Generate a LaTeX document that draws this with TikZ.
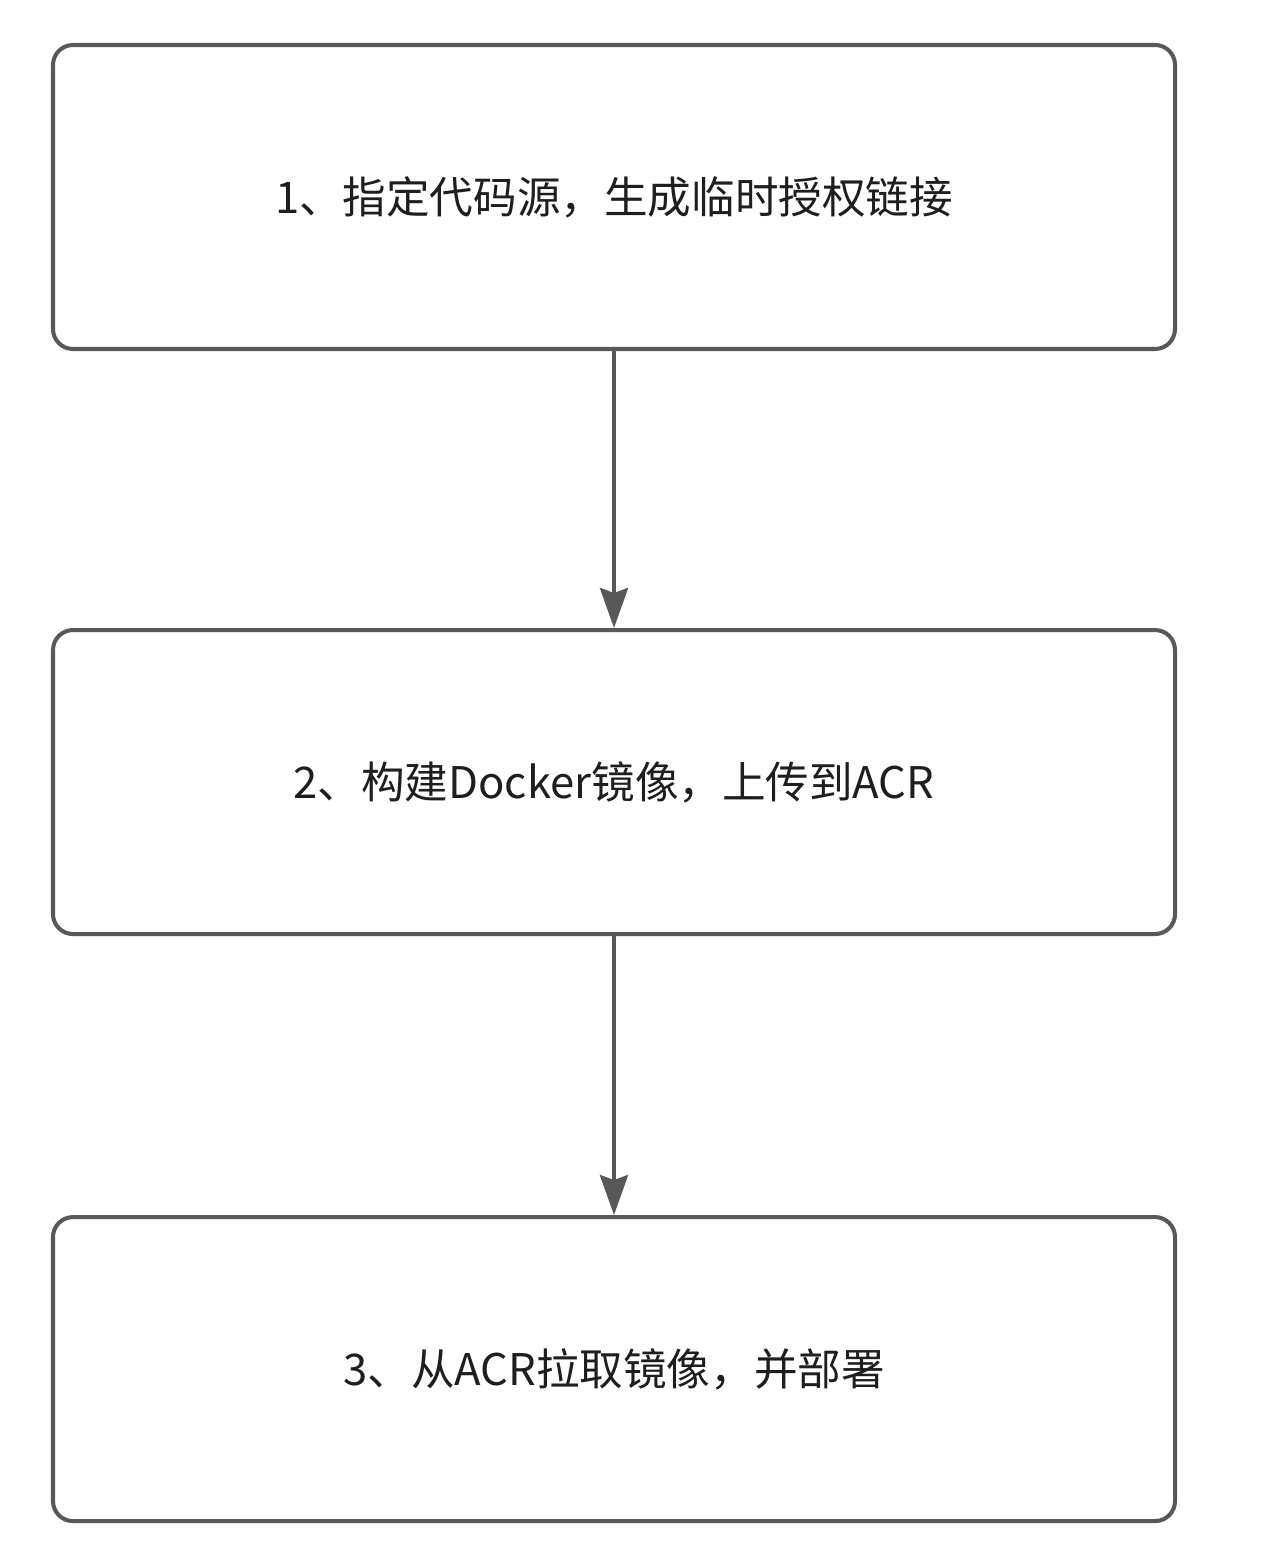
\documentclass[tikz,border=0pt]{standalone}
\usepackage{fontspec}
\usepackage{xcolor}
\usepackage{tikz}
\usetikzlibrary{arrows.meta, positioning}
\setmainfont{Noto Sans CJK SC}
\definecolor{boxline}{RGB}{88,88,88}
\definecolor{boxtext}{RGB}{30,30,30}
\tikzset{
  stepbox/.style={rectangle, draw=boxline, fill=white,
    minimum width=11.22cm, minimum height=3.04cm,
    rounded corners=0.2cm, line width=1.15pt,
    font=\fontsize{12.4}{15}\selectfont, text=boxtext},
  arrow/.style={-{Stealth[length=0.40cm, width=0.28cm, inset=0.05cm]},
    line width=1.15pt, color=boxline}
}
\begin{document}
\begin{tikzpicture}
  % canvas
  \useasboundingbox (0,0) rectangle (12.64,-15.54);
  % steps
  \node[stepbox] (code)  at (6.14,-1.97) {1、指定代码源，生成临时授权链接};
  \node[stepbox, below=2.77cm of code] (build) {2、构建Docker镜像，上传到ACR};
  \node[stepbox, below=2.79cm of build] (deploy) {3、从ACR拉取镜像，并部署};
  % flow
  \draw[arrow] (code)  -- (build);
  \draw[arrow] (build) -- (deploy);
\end{tikzpicture}
\end{document}
